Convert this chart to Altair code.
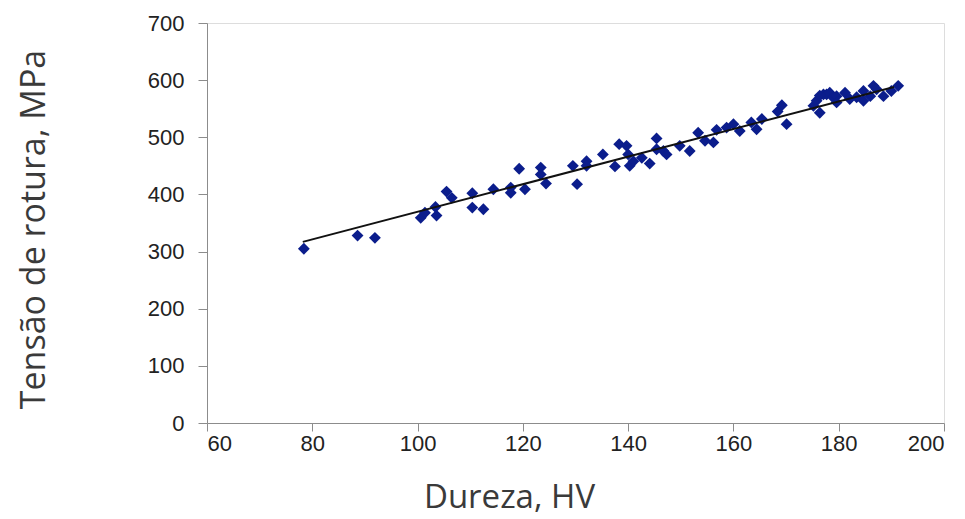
import altair as alt
import pandas as pd

# Dureza (HV) and Tensão de rotura (MPa)
hv = [78.4, 88.6, 91.9, 100.6, 101.4, 103.4, 103.6, 105.5, 106.5, 110.4,
      110.4, 112.5, 114.4, 117.7, 117.7, 119.3, 120.4, 123.4, 123.4, 124.4,
      129.5, 130.3, 132.1, 132.1, 135.2, 137.5, 138.3, 139.7, 140.0, 140.3,
      141.0, 142.6, 144.1, 145.4, 145.4, 146.7, 147.3, 149.8, 151.7, 153.3,
      154.6, 156.2, 156.8, 158.7, 160.0, 161.2, 163.4, 164.4, 165.4, 168.4,
      169.2, 170.1, 175.2, 175.8, 176.4, 176.4, 177.1, 177.7, 178.3, 178.9,
      179.6, 179.6, 181.2, 182.1, 183.4, 184.7, 184.7, 186.0, 186.6, 187.2,
      188.5, 190.0, 191.3]
mpa = [305, 328, 324, 359, 368, 378, 363, 405, 394, 402,
       377, 374, 409, 412, 403, 445, 409, 447, 435, 419,
       450, 418, 458, 450, 470, 449, 488, 485, 470, 450,
       458, 464, 454, 498, 479, 476, 470, 485, 476, 508,
       494, 491, 513, 517, 523, 511, 526, 514, 532, 545,
       556, 523, 555, 564, 573, 543, 575, 575, 578, 570,
       572, 561, 578, 567, 570, 564, 581, 572, 590, 584,
       572, 581, 590]

# Trend line end points
fit_hv = [78.2, 190.5]
fit_mpa = [317, 588]

x_ticks = [60, 80, 100, 120, 140, 160, 180, 200]
y_ticks = [0, 100, 200, 300, 400, 500, 600, 700]

df = pd.DataFrame({"hv": hv, "mpa": mpa})
df_fit = pd.DataFrame({"hv": fit_hv, "mpa": fit_mpa})

x_enc = alt.X(
    "hv:Q",
    scale=alt.Scale(domain=[60, 200], nice=False, zero=False),
    axis=alt.Axis(
        values=x_ticks, grid=False, title="Dureza, HV",
        domainColor="#8c8c8c", tickColor="#8c8c8c", tickSize=8,
        labelFont="Liberation Sans", labelFontSize=22, labelColor="#222222",
        labelPadding=2,
        titleFont="Open Sans", titleFontSize=33, titleFontWeight="normal",
        titleColor="#3a3a3a", titleX=302, titleY=74, titleBaseline="middle",
        titleAlign="center",
    ),
)
y_enc = alt.Y(
    "mpa:Q",
    scale=alt.Scale(domain=[0, 700], nice=False),
    axis=alt.Axis(
        values=y_ticks, grid=False, title="Tensão de rotura, MPa",
        domainColor="#8c8c8c", tickColor="#8c8c8c", tickSize=9,
        labelFont="Liberation Sans", labelFontSize=22, labelColor="#222222",
        labelPadding=14,
        titleFont="Open Sans", titleFontSize=34, titleFontWeight="normal",
        titleColor="#3a3a3a", titleX=-173, titleY=206, titleAngle=270,
        titleBaseline="middle", titleAlign="center",
    ),
)

points = alt.Chart(df).mark_point(shape="diamond", filled=True, size=140,
                                  color="#0b1d8c", opacity=1).encode(x=x_enc, y=y_enc)
fit = alt.Chart(df_fit).mark_line(color="#111111", strokeWidth=2).encode(x=x_enc, y=y_enc)

chart = (points + fit).properties(
    width=737, height=400,
    autosize=alt.AutoSizeParams(type="none"),
    padding={"left": 207, "top": 23, "right": 21, "bottom": 96},
).configure_view(stroke="#c8c8c8", strokeWidth=1).configure(background="white")

chart.save("out.html", embed_options={"renderer": "svg", "actions": False})
